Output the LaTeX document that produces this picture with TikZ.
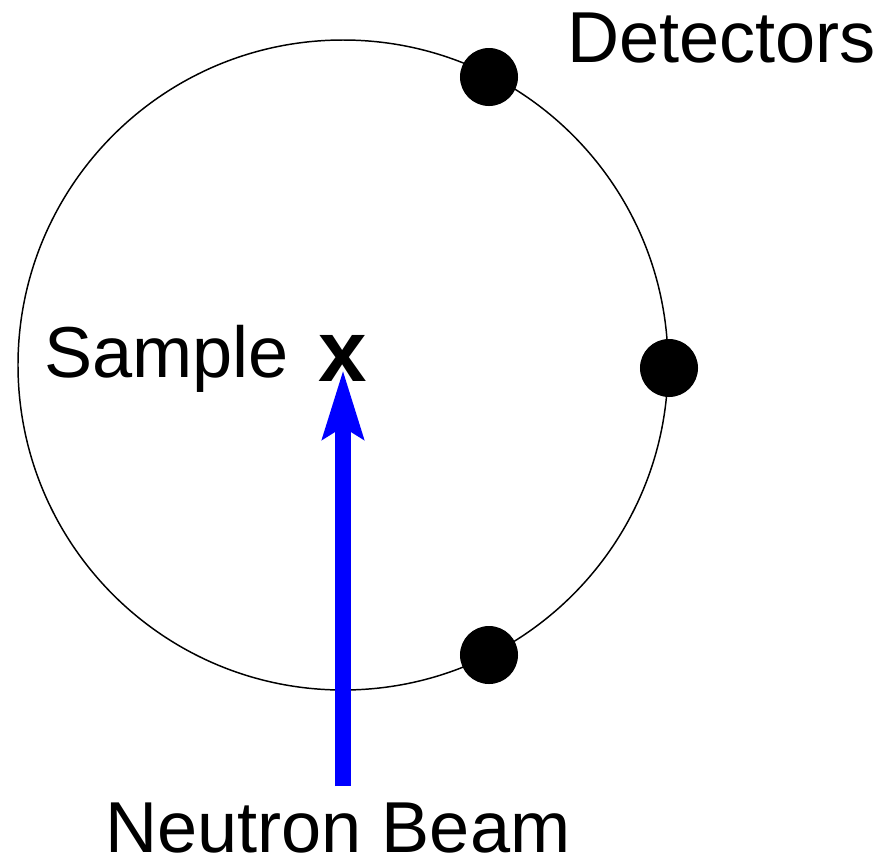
\documentclass[tikz,border=0pt]{standalone}
\usepackage{fontspec}
\setmainfont{Liberation Sans}
\usetikzlibrary{arrows.meta}

\tikzset{
	detector/.style={circle, fill=black, inner sep=0pt, minimum size=1.45cm},
	label/.style={inner sep=0pt, anchor=base west, font=\fontsize{51.3}{60}\selectfont},
	beam/.style={color=blue, line width=0.4cm, -{Stealth[length=1.7cm, width=1cm, inset=0.28cm]}}
}

\begin{document}
\begin{tikzpicture}[x=0.025cm, y=-0.025cm]
	\useasboundingbox (0,0) rectangle (889,858);
	% detector ring
	\draw[line width=1.05pt] (343,365) circle[radius=325];
	\node[detector] (det1) at (489,77) {};
	\node[detector] (det2) at (669,368) {};
	\node[detector] (det3) at (489,655) {};
	% labels
	\node[label] (detectors) at (567,62) {Detectors};
	\node[label] (sample) at (44,377) {Sample};
	\node[inner sep=0pt, font=\fontsize{62}{70}\selectfont\bfseries] (xmark) at (343,358) {x};
	\node[label] (neutron) at (105,852) {Neutron Beam};
	% incoming beam
	\coordinate (source) at (343,786);
	\draw[beam] (source) -- ([yshift=-0.3cm]xmark.center);
\end{tikzpicture}
\end{document}
